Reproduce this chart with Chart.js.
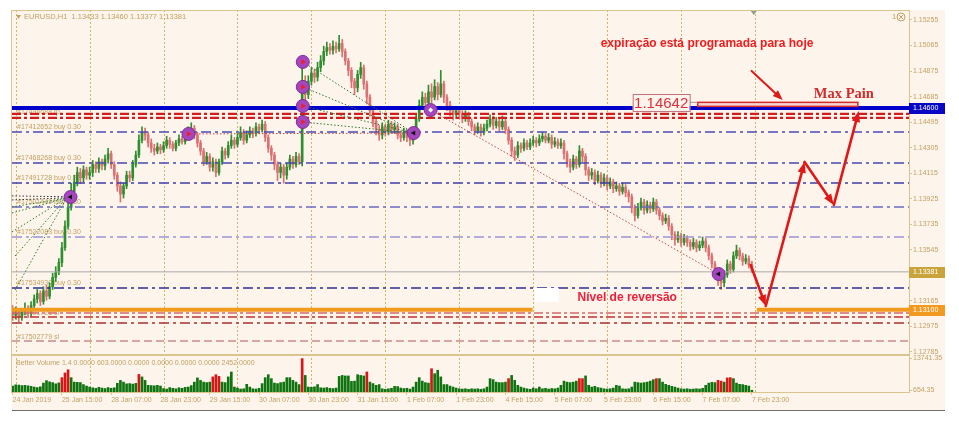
<!DOCTYPE html>
<html>
<head>
<meta charset="utf-8">
<script src="https://cdn.jsdelivr.net/npm/chart.js@4.4.1/dist/chart.umd.min.js"></script>
<style>
  html, body { margin: 0; padding: 0; background: #fff; }
  #wrap { position: relative; width: 959px; height: 425px; }
  #frame { position: absolute; left: 12px; top: 10px; width: 933px; height: 400px; background: #fdf4ec; border-bottom: 1px solid #6e6e6e; }
  canvas { position: absolute; left: 0; top: 0; }
</style>
</head>
<body>
<div id="wrap">
  <div id="frame"></div>
  <canvas id="priceChart" width="959" height="425"></canvas>
  <canvas id="volumeChart" width="959" height="425"></canvas>
</div>
<script>
// EURUSD H1, 24 Jan 2019 23:00 .. 7 Feb 2019 23:00 (bar index 0..240)
const closes = [1.1306,1.1309,1.1304,1.1308,1.1311,1.1307,1.1313,1.1318,1.1322,1.1316,
  1.1324,1.1320,1.1327,1.1334,1.1338,1.1345,1.1356,1.1372,1.1386,1.1398,
  1.1405,1.1412,1.1408,1.1414,1.1410,1.1412,1.1418,1.1415,1.1420,1.1417,
  1.1422,1.1426,1.1418,1.1410,1.1402,1.1396,1.1402,1.1410,1.1408,1.1418,
  1.1425,1.1436,1.1442,1.1440,1.1434,1.1430,1.1428,1.1431,1.1429,1.1432,
  1.1436,1.1433,1.1430,1.1434,1.1437,1.1435,1.1439,1.1442,1.1445,1.1440,
  1.1434,1.1428,1.1420,1.1424,1.1416,1.1420,1.1412,1.1420,1.1428,1.1425,
  1.1432,1.1436,1.1433,1.1438,1.1442,1.1436,1.1440,1.1443,1.1441,1.1446,
  1.1444,1.1448,1.1438,1.1430,1.1425,1.1418,1.1412,1.1416,1.1410,1.1416,
  1.1422,1.1418,1.1424,1.1420,1.1478,1.1470,1.1480,1.1486,1.1483,1.1490,
  1.1495,1.1502,1.1505,1.1503,1.1506,1.1504,1.1508,1.1502,1.1495,1.1488,
  1.1480,1.1475,1.1485,1.1490,1.1478,1.1468,1.1458,1.1450,1.1444,1.1440,
  1.1446,1.1442,1.1448,1.1444,1.1446,1.1440,1.1438,1.1442,1.1438,1.1436,
  1.1440,1.1452,1.1462,1.1468,1.1464,1.1472,1.1468,1.1476,1.1470,1.1478,
  1.1468,1.1462,1.1458,1.1455,1.1458,1.1456,1.1452,1.1455,1.1450,1.1446,
  1.1443,1.1446,1.1442,1.1445,1.1448,1.1452,1.1447,1.1450,1.1446,1.1450,
  1.1444,1.1436,1.1428,1.1425,1.1432,1.1430,1.1434,1.1431,1.1434,1.1436,
  1.1434,1.1437,1.1439,1.1436,1.1438,1.1433,1.1435,1.1432,1.1434,1.1426,
  1.1420,1.1416,1.1422,1.1418,1.1428,1.1424,1.1414,1.1410,1.1412,1.1406,
  1.1410,1.1404,1.1408,1.1402,1.1405,1.1400,1.1402,1.1398,1.1401,1.1397,
  1.1394,1.1386,1.1380,1.1386,1.1390,1.1384,1.1388,1.1385,1.1390,1.1384,
  1.1380,1.1376,1.1378,1.1372,1.1366,1.1362,1.1365,1.1360,1.1363,1.1360,
  1.1357,1.1360,1.1356,1.1358,1.1361,1.1356,1.1350,1.1344,1.1338,1.1332,
  1.1330,1.1336,1.1344,1.1340,1.1350,1.1354,1.1350,1.1346,1.1348,1.13433,
  1.13381];
const highs = [1.1313,1.1312,1.1311,1.1310,1.1315,1.1313,1.1316,1.1321,1.1325,1.1324,
  1.1327,1.1328,1.1330,1.1337,1.1342,1.1348,1.1360,1.1376,1.1390,1.1404,
  1.1410,1.1416,1.1415,1.1417,1.1416,1.1416,1.1421,1.1420,1.1423,1.1422,
  1.1425,1.1430,1.1428,1.1420,1.1412,1.1405,1.1404,1.1413,1.1413,1.1421,
  1.1428,1.1440,1.1446,1.1445,1.1442,1.1437,1.1433,1.1434,1.1433,1.1435,
  1.1439,1.1438,1.1435,1.1436,1.1440,1.1439,1.1442,1.1446,1.1449,1.1447,
  1.1442,1.1436,1.1430,1.1427,1.1426,1.1423,1.1422,1.1422,1.1431,1.1430,
  1.1435,1.1440,1.1438,1.1441,1.1446,1.1444,1.1443,1.1446,1.1445,1.1449,
  1.1448,1.1451,1.1450,1.1440,1.1432,1.1427,1.1420,1.1419,1.1418,1.1419,
  1.1425,1.1424,1.1427,1.1426,1.1497,1.1484,1.1484,1.1490,1.1489,1.1494,
  1.1499,1.1506,1.1509,1.1508,1.1510,1.1509,1.1514,1.1511,1.1504,1.1497,
  1.1490,1.1482,1.1488,1.1494,1.1492,1.1480,1.1470,1.1460,1.1452,1.1447,
  1.1449,1.1448,1.1451,1.1450,1.1449,1.1448,1.1443,1.1445,1.1444,1.1440,
  1.1443,1.1456,1.1466,1.1472,1.1471,1.1477,1.1478,1.1481,1.1479,1.1488,
  1.1480,1.1470,1.1465,1.1461,1.1461,1.1460,1.1458,1.1458,1.1457,1.1452,
  1.1448,1.1449,1.1448,1.1448,1.1451,1.1455,1.1454,1.1453,1.1452,1.1454,
  1.1452,1.1446,1.1438,1.1431,1.1435,1.1434,1.1437,1.1436,1.1437,1.1439,
  1.1438,1.1440,1.1442,1.1441,1.1441,1.1440,1.1438,1.1437,1.1437,1.1436,
  1.1428,1.1422,1.1425,1.1424,1.1432,1.1430,1.1426,1.1416,1.1415,1.1414,
  1.1413,1.1412,1.1411,1.1410,1.1408,1.1407,1.1405,1.1404,1.1404,1.1403,
  1.1399,1.1396,1.1388,1.1389,1.1393,1.1392,1.1391,1.1390,1.1393,1.1392,
  1.1386,1.1382,1.1381,1.1380,1.1374,1.1368,1.1368,1.1367,1.1366,1.1365,
  1.1362,1.1363,1.1362,1.1361,1.1364,1.1363,1.1358,1.1352,1.1346,1.1340,
  1.1334,1.1339,1.1347,1.1346,1.1353,1.1358,1.1356,1.1352,1.1351,1.1350,
  1.13460];
const lows = [1.1302,1.1303,1.1301,1.1302,1.1306,1.1304,1.1305,1.1311,1.1315,1.1313,
  1.1314,1.1317,1.1318,1.1325,1.1331,1.1336,1.1342,1.1354,1.1370,1.1384,
  1.1395,1.1402,1.1404,1.1405,1.1407,1.1407,1.1409,1.1412,1.1412,1.1414,
  1.1414,1.1419,1.1415,1.1407,1.1398,1.1390,1.1393,1.1400,1.1405,1.1406,
  1.1416,1.1423,1.1434,1.1436,1.1431,1.1427,1.1425,1.1426,1.1426,1.1427,
  1.1430,1.1430,1.1428,1.1428,1.1432,1.1433,1.1433,1.1437,1.1440,1.1437,
  1.1431,1.1425,1.1417,1.1418,1.1413,1.1413,1.1409,1.1410,1.1418,1.1422,
  1.1423,1.1430,1.1430,1.1431,1.1436,1.1433,1.1434,1.1438,1.1438,1.1439,
  1.1441,1.1442,1.1435,1.1427,1.1421,1.1414,1.1406,1.1408,1.1404,1.1407,
  1.1414,1.1415,1.1416,1.1418,1.1417,1.1465,1.1467,1.1477,1.1479,1.1480,
  1.1487,1.1492,1.1499,1.1500,1.1500,1.1501,1.1502,1.1498,1.1492,1.1484,
  1.1475,1.1470,1.1472,1.1482,1.1474,1.1463,1.1454,1.1446,1.1440,1.1436,
  1.1437,1.1439,1.1440,1.1441,1.1441,1.1437,1.1435,1.1436,1.1435,1.1432,
  1.1433,1.1438,1.1450,1.1459,1.1460,1.1462,1.1464,1.1466,1.1466,1.1468,
  1.1464,1.1458,1.1454,1.1451,1.1452,1.1452,1.1449,1.1450,1.1447,1.1443,
  1.1440,1.1441,1.1439,1.1440,1.1443,1.1446,1.1444,1.1445,1.1443,1.1444,
  1.1441,1.1433,1.1424,1.1421,1.1423,1.1427,1.1428,1.1429,1.1429,1.1432,
  1.1431,1.1432,1.1435,1.1434,1.1434,1.1430,1.1431,1.1430,1.1430,1.1422,
  1.1416,1.1412,1.1414,1.1415,1.1416,1.1420,1.1410,1.1406,1.1407,1.1403,
  1.1404,1.1401,1.1402,1.1399,1.1400,1.1397,1.1398,1.1395,1.1396,1.1394,
  1.1390,1.1382,1.1376,1.1378,1.1384,1.1381,1.1382,1.1382,1.1383,1.1381,
  1.1377,1.1373,1.1374,1.1369,1.1362,1.1358,1.1360,1.1357,1.1358,1.1357,
  1.1354,1.1355,1.1353,1.1354,1.1356,1.1353,1.1347,1.1341,1.1334,1.1328,
  1.1325,1.1327,1.1334,1.1337,1.1338,1.1348,1.1347,1.1343,1.1344,1.1341,
  1.13377];
const firstOpen = 1.1310;   // later bars open at the previous close

const volumes = [2400,2900,2800,2600,2700,2500,2300,2000,1800,2100,
  3600,4600,4100,3800,3300,3700,5800,7700,9000,5800,
  4000,3900,3800,3000,2400,2000,1700,1500,1900,1600,
  1400,1800,1500,1700,3500,4700,4000,3300,3400,3200,
  3500,7100,6100,4700,2700,2600,2500,2700,2400,1400,
  1200,1800,1500,1300,1700,1500,1900,2000,2600,4000,
  5700,4700,4000,3800,4000,6100,7000,6300,4000,3800,
  6100,8100,2000,1600,1200,1300,3100,2000,1300,1200,
  1500,3400,5800,7000,5400,3600,3400,3800,4000,5800,
  5800,4700,4000,3000,13500,6700,2000,1900,2100,3000,
  1700,1600,1800,1500,1400,1600,6300,6700,6500,6500,
  4300,4400,7000,6700,6500,8100,4000,3400,2700,3000,
  1300,1100,1300,1500,2300,2200,1600,1400,1500,1200,
  2000,4000,5800,4400,3800,3600,9400,7400,8800,6100,
  3000,3000,2400,2000,1600,1300,1200,1300,1100,1300,
  1200,1300,1100,1300,2000,5400,5000,4000,3800,3800,
  4000,5400,6700,4700,2700,2000,1600,1300,1100,1600,
  1300,2000,1300,1500,1200,1400,1300,1600,2700,4400,
  4000,3800,4000,4400,5400,5400,6500,2700,2000,2300,
  1800,1600,1300,1200,1300,1600,2700,2400,1300,1200,
  1300,2000,4000,3800,3600,3800,4000,4400,5000,5400,
  5400,4000,3100,2700,2300,2000,1600,1300,1200,1300,
  1100,1200,1300,1200,1500,2700,3600,3900,3800,4700,
  4400,4000,5700,5800,5400,3600,3100,3000,2700,2400,
  700];
const redVolumeBars = [16,17,18,41,65,66,67,94,115,136,161,184,185,209,229,230,232,233];

const timeLabels = ['24 Jan 2019','25 Jan 15:00','28 Jan 07:00','28 Jan 23:00','29 Jan 15:00',
  '30 Jan 07:00','30 Jan 23:00','31 Jan 15:00','1 Feb 07:00','1 Feb 23:00','4 Feb 15:00',
  '5 Feb 07:00','5 Feb 23:00','6 Feb 15:00','7 Feb 07:00','7 Feb 23:00'];
const timeLabelBars = [0,16,32,48,64,80,96,112,128,144,160,176,192,208,224,240];
const daySeparatorBars = [1,25,49,73,97,121,145,169,193,217,241];
const priceTicks = [1.15255,1.15065,1.14875,1.14685,1.14495,1.14305,1.14115,1.13925,
  1.13735,1.13545,1.13355,1.13165,1.12975,1.12785];
const volumeTicks = [654.35, 13741.35];

// horizontal levels
const bidLevel = 1.14600;
const lastPrice = 1.13381;
const reversalLevel = 1.13100;
const tpLevels = [1.14556, 1.14526];
const orderLevels = [1.14422, 1.14191, 1.14042, 1.13864, 1.13641, 1.13261];
const orderLabels = ['#17412652 buy 0.30','#17468268 buy 0.30','#17491728 buy 0.30',
  '#17501449 buy 0.30','#17522083 buy 0.30','#17534930 buy 0.30'];
const stopLevels = [1.13075, 1.13045, 1.13000, 1.12867];
const stopLabels = ['', '#17491728 sl', '', '#17502779 sl'];

// trade arrows (bar index, price)
const tradeBars = [18.8, 57.1, 94.2, 94.2, 94.2, 94.2, 130.2, 135.7, 229.2];
const tradePrices = [1.13938, 1.14407, 1.14943, 1.14757, 1.14615, 1.14496, 1.14414, 1.14585, 1.13365];
const tradeKinds = ['close','open','open','open','open','open','close','modify','close'];
// open -> close links: [bar1, price1, bar2, price2]
const greenLinks = [[-0.2,1.13864,17.5,1.13930],[-0.2,1.13819,17.5,1.13930],[-0.2,1.13678,17.5,1.13930],
  [0.8,1.13499,17.5,1.13930],[0.8,1.13246,17.5,1.13930],
  [94.2,1.14943,130.2,1.14414],[94.2,1.14757,130.2,1.14414],[94.2,1.14615,130.2,1.14414],[94.2,1.14496,130.2,1.14414]];
const blackLinks = [[-0.2,1.13946,17.5,1.13940],[-0.2,1.13916,17.5,1.13932]];
const redLinks = [[57.1,1.14407,130.2,1.14414],[135.7,1.14585,229.2,1.13365]];

// hand drawn forecast objects (bar index, price)
const forecastBars = [239.6, 244.5, 257.1, 266.6, 274.7];
const forecastPrices = [1.13432, 1.13127, 1.14199, 1.13879, 1.14578];
const pointerBars = [239.9, 250.0];
const pointerPrices = [1.14876, 1.14660];
const maxPainLevel = 1.14642;

const GOLD = '#c2a264';
const FRAME = '#dcc48e';
const UP = '#2f8f2f';
const DOWN = '#db7070';
const X_MIN = -0.2, X_MAX = 291;

Chart.defaults.font.family = '"Liberation Sans", Arial, sans-serif';

const opens = closes.map((c, i) => i === 0 ? firstOpen : closes[i - 1]);
const barColor = ctx => closes[ctx.dataIndex] >= opens[ctx.dataIndex] ? UP : DOWN;

function hline(price, color, width, dash, from, to, order) {
  return {
    type: 'line', data: [{x: from ?? X_MIN, y: price}, {x: to ?? X_MAX, y: price}],
    borderColor: color, borderWidth: width, borderDash: dash, pointRadius: 0, order: order ?? 8
  };
}
function link(seg, color) {
  return {
    type: 'line', data: [{x: seg[0], y: seg[1]}, {x: seg[2], y: seg[3]}],
    borderColor: color, borderWidth: 1, borderDash: [1.5, 2], pointRadius: 0, order: 4
  };
}

function arrow(ctx, x1, y1, x2, y2, head) {
  const a = Math.atan2(y2 - y1, x2 - x1);
  const c = Math.cos(a), s = Math.sin(a);
  ctx.beginPath();
  ctx.moveTo(x1, y1);
  ctx.lineTo(x2 - c * head * 0.7, y2 - s * head * 0.7);
  ctx.stroke();
  ctx.beginPath();
  ctx.moveTo(x2, y2);
  ctx.lineTo(x2 - head * c + head * 0.38 * s, y2 - head * s - head * 0.38 * c);
  ctx.lineTo(x2 - head * c - head * 0.38 * s, y2 - head * s + head * 0.38 * c);
  ctx.closePath();
  ctx.fill();
}

const orderColors = ['#4b4bb4','#4848b0','#3c3ca8','#6a6ac2','#9c94d4','#2e2e92'];
const stopColors = ['#d46a6a','#c23030','#a83030','#c98a8a'];
const stopDash = [[9,3,3,3],[9,3,3,3],[10,4,3,4],[8,4]];

const datasets = [
  {type: 'bar', data: closes.map((c, i) => ({x: i, y: [lows[i], highs[i]]})),
   backgroundColor: barColor, barThickness: 1, grouped: false, order: 20},
  {type: 'bar', data: closes.map((c, i) => ({x: i, y: [opens[i], closes[i]]})),
   backgroundColor: barColor, barThickness: 2, minBarLength: 1, grouped: false, order: 19},
  hline(lastPrice, '#a9a9a9', 1, []),
  ...stopLevels.map((p, i) => hline(p, stopColors[i], 1.5, stopDash[i])),
  ...orderLevels.map((p, i) => hline(p, orderColors[i], 1.5, [10,4,3,4])),
  ...tpLevels.map(p => hline(p, '#d41c1c', 2.2, [9,3,3,3])),
  hline(reversalLevel, '#f29a1e', 4, [], X_MIN, 168.8, 7),
  hline(reversalLevel, '#f29a1e', 4, [], 241.6, X_MAX, 7),
  hline(bidLevel, '#0000cc', 4, [], X_MIN, X_MAX, 6),
  ...greenLinks.map(s => link(s, '#2a7a2a')),
  ...blackLinks.map(s => link(s, '#333333')),
  ...redLinks.map(s => link(s, '#c04848')),
  {type: 'scatter', data: tradeBars.map((b, i) => ({x: b, y: tradePrices[i]})),
   pointRadius: 6.5, pointBackgroundColor: '#a447bd', pointBorderColor: '#7e2c98', pointBorderWidth: 1, order: 2},
  {type: 'scatter', data: tradeBars.map((b, i) => ({x: b, y: tradePrices[i]})),
   pointStyle: c => tradeKinds[c.dataIndex] === 'modify' ? 'rectRot' : 'triangle',
   rotation: c => tradeKinds[c.dataIndex] === 'open' ? 90 : tradeKinds[c.dataIndex] === 'close' ? -90 : 0,
   pointRadius: c => tradeKinds[c.dataIndex] === 'modify' ? 2.5 : 3,
   pointBackgroundColor: c => ({open: '#f21d1d', close: '#141414', modify: '#ffffff'})[tradeKinds[c.dataIndex]],
   pointBorderWidth: 0, order: 1}
];

const mainDecor = {
  id: 'mainDecor',
  beforeDatasetsDraw(chart) {
    const {ctx, chartArea: a, scales: {x, y}} = chart;
    ctx.save();
    ctx.strokeStyle = '#d4b468';
    ctx.lineWidth = 1;
    ctx.setLineDash([2, 2]);
    daySeparatorBars.forEach(b => {
      const xp = Math.round(x.getPixelForValue(b)) + 0.5;
      ctx.beginPath(); ctx.moveTo(xp, a.top); ctx.lineTo(xp, 392); ctx.stroke();
    });
    ctx.setLineDash([]);
    ctx.fillStyle = GOLD;
    ctx.font = '7px "Liberation Sans"';
    ctx.textBaseline = 'middle';
    orderLevels.forEach((p, i) => ctx.fillText(orderLabels[i], a.left + 5, y.getPixelForValue(p) - 5));
    stopLevels.forEach((p, i) => { if (stopLabels[i]) ctx.fillText(stopLabels[i], a.left + 5, y.getPixelForValue(p) - 4); });
    ctx.fillText('#17496688 tp', a.left + 5, y.getPixelForValue(tpLevels[0]) - 2);
    ctx.restore();
  },
  afterDatasetsDraw(chart) {
    const {ctx, scales: {x, y}} = chart;
    const X = b => x.getPixelForValue(b), Y = p => y.getPixelForValue(p);
    ctx.save();
    // max pain box + bar
    ctx.fillStyle = '#f7d6d2';
    ctx.strokeStyle = '#d42b2b';
    ctx.lineWidth = 1.5;
    ctx.fillRect(X(222.4), Y(maxPainLevel), X(274.4) - X(222.4), Y(1.14612) - Y(maxPainLevel));
    ctx.strokeRect(X(222.4), Y(maxPainLevel), X(274.4) - X(222.4), Y(1.14612) - Y(maxPainLevel));
    ctx.strokeStyle = '#999';
    ctx.lineWidth = 1;
    ctx.beginPath(); ctx.moveTo(X(219.8), Y(maxPainLevel)); ctx.lineTo(X(222.4), Y(maxPainLevel)); ctx.stroke();
    ctx.fillStyle = '#fdf4ec';
    ctx.fillRect(X(201.3), Y(1.14704), X(219.8) - X(201.3), Y(1.14578) - Y(1.14704));
    ctx.strokeStyle = '#c0707c';
    ctx.strokeRect(X(201.3) + 0.5, Y(1.14704) + 0.5, X(219.8) - X(201.3), Y(1.14578) - Y(1.14704));
    ctx.fillStyle = '#e0303c';
    ctx.font = '15px "Liberation Sans"';
    ctx.textAlign = 'center';
    ctx.textBaseline = 'middle';
    ctx.fillText(maxPainLevel.toFixed(5), (X(201.3) + X(219.8)) / 2, (Y(1.14704) + Y(1.14578)) / 2 + 1);
    ctx.textAlign = 'left';
    ctx.fillStyle = '#d42b2b';
    ctx.font = 'bold 14.5px "Liberation Serif"';
    ctx.fillText('Max Pain', X(260.1), Y(1.14704));
    ctx.fillStyle = '#f01c1c';
    ctx.font = 'bold 12px "Liberation Sans"';
    ctx.fillText('expiração está programada para hoje', X(190.9), Y(1.15076));
    // reversal label
    ctx.fillStyle = '#ffffff';
    ctx.fillRect(X(169.5), Y(1.13261), X(177.3) - X(169.5), Y(1.13157) - Y(1.13261));
    ctx.fillStyle = '#f0203a';
    ctx.fillText('Nível de reversão', X(183.4), Y(1.13187));
    // forecast arrows
    ctx.strokeStyle = '#e01818';
    ctx.fillStyle = '#e01818';
    ctx.lineWidth = 2.6;
    ctx.lineCap = 'round';
    for (let i = 1; i < forecastBars.length; i++) {
      arrow(ctx, X(forecastBars[i - 1]), Y(forecastPrices[i - 1]), X(forecastBars[i]), Y(forecastPrices[i]), 11);
    }
    ctx.lineWidth = 2;
    arrow(ctx, X(pointerBars[0]), Y(pointerPrices[0]), X(pointerBars[1]), Y(pointerPrices[1]), 10);
    ctx.restore();
  },
  afterDraw(chart) {
    const {ctx, chartArea: a, scales: {x, y}} = chart;
    ctx.save();
    ctx.strokeStyle = FRAME;
    ctx.lineWidth = 1;
    ctx.strokeRect(a.left - 0.5, a.top + 0.5, a.width + 1, a.height);
    // price boxes on the axis
    const box = (p, col) => {
      const yp = Math.round(y.getPixelForValue(p));
      ctx.fillStyle = col;
      ctx.fillRect(a.right, yp - 5, 36, 11);
      ctx.fillStyle = '#fff';
      ctx.font = '7px "Liberation Sans"';
      ctx.textBaseline = 'middle';
      ctx.fillText(p.toFixed(5), a.right + 4, yp + 0.5);
    };
    box(bidLevel, '#0707c4');
    box(lastPrice, '#c9a43a');
    box(reversalLevel, '#f29a20');
    // header
    const n = closes.length - 1;
    ctx.fillStyle = GOLD;
    ctx.beginPath();
    ctx.moveTo(a.left + 4, a.top + 5); ctx.lineTo(a.left + 9, a.top + 5); ctx.lineTo(a.left + 6.5, a.top + 9);
    ctx.closePath(); ctx.fill();
    ctx.font = '7.5px "Liberation Sans"';
    ctx.textBaseline = 'middle';
    ctx.fillText('EURUSD,H1  ' + [opens[n], highs[n], lows[n], closes[n]].map(v => v.toFixed(5)).join(' '), a.left + 12, a.top + 7);
    ctx.fillText('1', a.right - 17, a.top + 7);
    ctx.strokeStyle = GOLD;
    ctx.beginPath(); ctx.arc(a.right - 8, a.top + 7, 4, 0, Math.PI * 2); ctx.stroke();
    ctx.beginPath();
    ctx.moveTo(a.right - 10, a.top + 5); ctx.lineTo(a.right - 6, a.top + 9);
    ctx.moveTo(a.right - 6, a.top + 5); ctx.lineTo(a.right - 10, a.top + 9);
    ctx.stroke();
    // chart shift marker
    const sx = x.getPixelForValue(n + 0.6);
    ctx.fillStyle = '#8ca08c';
    ctx.beginPath(); ctx.moveTo(sx - 3, a.top + 1); ctx.lineTo(sx + 3, a.top + 1); ctx.lineTo(sx, a.top + 5);
    ctx.closePath(); ctx.fill();
    ctx.restore();
  }
};

new Chart(document.getElementById('priceChart'), {
  type: 'line',
  data: {datasets},
  options: {
    responsive: false, animation: false, events: [],
    layout: {padding: {top: 10, left: 12, right: 0, bottom: 71}},
    plugins: {legend: {display: false}, tooltip: {enabled: false}},
    scales: {
      x: {type: 'linear', min: X_MIN, max: X_MAX, display: false, offset: false},
      y: {
        type: 'linear', position: 'right', min: 1.12770, max: 1.15329,
        afterFit(s) { s.width = 50; },
        afterBuildTicks(s) { s.ticks = priceTicks.map(v => ({value: v})); },
        ticks: {autoSkip: false, padding: 1, color: GOLD, font: {size: 7}, callback: v => v.toFixed(5)},
        grid: {drawOnChartArea: false, tickLength: 3, color: FRAME},
        border: {color: FRAME}
      }
    }
  },
  plugins: [mainDecor]
});

const volumeDecor = {
  id: 'volumeDecor',
  afterDraw(chart) {
    const {ctx, chartArea: a} = chart;
    ctx.save();
    ctx.strokeStyle = FRAME;
    ctx.strokeRect(a.left - 0.5, a.top - 0.5, a.width + 1, a.height + 1);
    ctx.fillStyle = GOLD;
    ctx.font = '7px "Liberation Sans"';
    ctx.textBaseline = 'middle';
    ctx.fillText('Better Volume 1.4 0.0000 603.0000 0.0000 0.0000 0.0000 0.0000 2452.0000', a.left + 4, a.top + 7);
    ctx.restore();
  }
};

new Chart(document.getElementById('volumeChart'), {
  type: 'bar',
  data: {
    datasets: [{
      data: volumes.map((v, i) => ({x: i, y: v})),
      backgroundColor: c => redVolumeBars.includes(c.dataIndex) ? '#dd1414' : '#0f740f',
      barThickness: 2, grouped: false
    }]
  },
  options: {
    responsive: false, animation: false, events: [],
    layout: {padding: {top: 356, left: 12, right: 0, bottom: 0}},
    plugins: {legend: {display: false}, tooltip: {enabled: false}},
    scales: {
      x: {
        type: 'linear', min: X_MIN, max: X_MAX, offset: false,
        afterFit(s) { s.height = 33; },
        afterBuildTicks(s) { s.ticks = timeLabelBars.map(v => ({value: v})); },
        ticks: {autoSkip: false, maxRotation: 0, minRotation: 0, align: 'start', padding: 1,
                color: GOLD, font: {size: 7}, callback: (v, i) => timeLabels[i]},
        grid: {drawOnChartArea: false, offset: false, tickLength: 3, color: FRAME},
        border: {color: FRAME}
      },
      y: {
        position: 'right', min: 0, max: 14550,
        afterFit(s) { s.width = 50; },
        afterBuildTicks(s) { s.ticks = volumeTicks.map(v => ({value: v})); },
        ticks: {autoSkip: false, padding: 1, color: GOLD, font: {size: 7}, callback: v => v.toFixed(2)},
        grid: {drawOnChartArea: false, tickLength: 3, color: FRAME},
        border: {color: FRAME}
      }
    }
  },
  plugins: [volumeDecor]
});
</script>
</body>
</html>
